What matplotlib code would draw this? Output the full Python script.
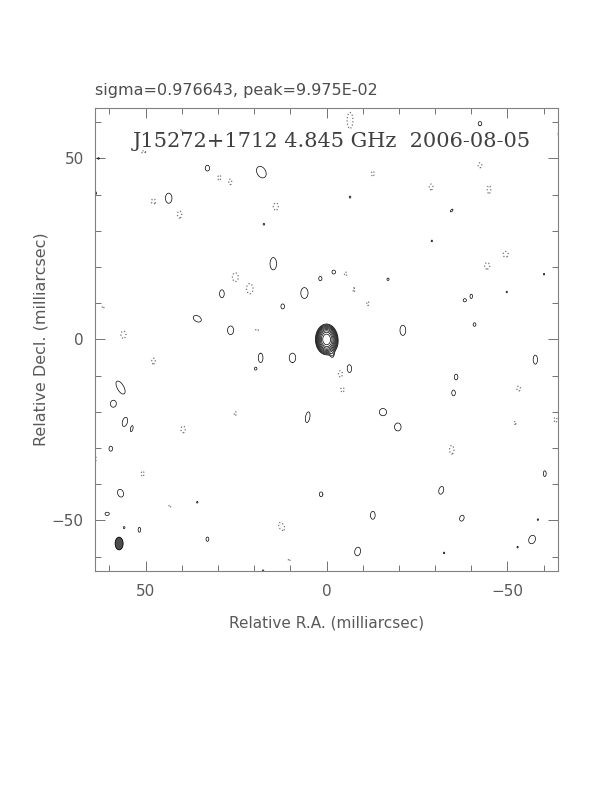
import numpy as np
import matplotlib
matplotlib.use("Agg")
from matplotlib import pyplot as plt
from matplotlib.patches import Ellipse
from matplotlib.ticker import MultipleLocator

# map info
source_name = "J15272+1712"
freq_label = "4.845 GHz"
obs_date = "2006-08-05"
sigma = 0.976643      # mJy/beam
peak = 9.975e-02      # Jy/beam

# contour levels in mJy/beam (3 sigma, steps of sqrt 2)
lowest = 3 * sigma
pos_levels = lowest * 2 ** (np.arange(0, 10) / 2.0)
neg_levels = [-lowest]

# core components: x, y (mas), flux (mJy), sigma_x, sigma_y (mas)
core_x = [0.0, -1.5, -1.6]
core_y = [0.0, -1.0, -4.3]
core_flux = [peak * 1000, 5.0, 3.5]
core_sx = [1.15, 1.0, 0.5]
core_sy = [1.6, 1.5, 0.8]

# positive noise islands: x, y, width, height (mas, lowest contour), pa (deg)
pos_x = [32.9, 18.0, 43.6, -42.4, 14.7, 28.9, 6.1, 1.7, -2.0, 12.1, 35.7, 26.5,
         -21.1, -40.9, -38.2, -40.0, 18.2, 9.4, -6.3, 19.6, -57.7, -35.8, -35.1,
         56.9, 58.9, 55.7, 53.8, 5.2, -15.6, -19.7, 59.6, -60.3, 56.9, 1.5, -31.7,
         60.6, 51.7, -12.8, -37.4, 32.9, -56.8, -8.6, -64.5, 64.0, -34.6, -17.0,
         -6.5, 17.3, 55.9, 63.0, -52.8, -32.5, 35.7, 17.5, -58.4, -60.1, -29.1,
         -49.8]
pos_y = [47.3, 46.2, 39.0, 59.6, 20.9, 12.6, 12.8, 16.8, 18.6, 9.1, 5.7, 2.5,
         2.5, 4.1, 10.8, 11.9, -5.1, -5.1, -8.1, -8.1, -5.6, -10.4, -14.8,
         -13.3, -17.8, -22.8, -24.7, -21.5, -20.1, -24.2, -30.2, -37.1, -42.5,
         -42.8, -41.7, -48.2, -52.6, -48.6, -49.4, -55.2, -55.3, -58.6, 56.8,
         40.4, 35.6, 16.6, 39.3, 31.8, -52.0, 50.0, -57.4, -59.0, -45.0, -63.9,
         -49.8, 18.0, 27.2, 13.1]
pos_w = [1.2, 2.4, 1.8, 1.0, 1.8, 1.3, 2.0, 0.9, 1.0, 1.0, 2.4, 1.7,
         1.6, 0.8, 0.9, 0.7, 1.3, 1.8, 1.3, 0.6, 1.2, 1.0, 1.0,
         1.8, 1.6, 1.4, 0.6, 1.2, 2.0, 1.8, 1.0, 0.8, 1.6, 1.0, 1.3,
         1.2, 0.7, 1.3, 1.2, 0.8, 1.8, 1.6, 1.0, 0.8, 0.5, 0.6,
         0.5, 0.5, 0.5, 0.6, 0.4, 0.4, 0.4, 0.4, 0.4, 0.4, 0.4, 0.4]
pos_h = [1.6, 3.4, 2.8, 1.2, 3.4, 2.2, 3.0, 1.2, 1.1, 1.4, 1.6, 2.4,
         2.8, 1.0, 0.9, 1.2, 2.6, 2.6, 2.2, 0.7, 2.5, 1.6, 1.6,
         4.0, 1.9, 2.6, 1.6, 3.0, 2.0, 2.2, 1.4, 1.6, 2.2, 1.3, 2.2,
         0.9, 1.4, 2.2, 1.7, 1.2, 2.4, 2.4, 1.6, 1.2, 1.0, 0.7,
         0.6, 0.5, 0.6, 0.4, 0.5, 0.5, 0.5, 0.5, 0.5, 0.5, 0.5, 0.5]
pos_pa = [0, 30, 0, 0, 0, 0, 0, 0, 0, 0, -30, 0,
          0, 0, 0, 0, 0, 0, 0, 0, 0, 0, 0,
          30, 0, -15, -15, -10, 0, 0, 0, 0, 20, 0, -15,
          0, 0, 0, -20, 0, -20, -10, 0, 0, -40, 0,
          0, 0, 0, 0, 0, 0, 0, 0, 0, 0, 0, 0]

# negative noise islands
neg_x = [-6.5, 50.6, 29.6, 26.6, -12.8, -42.4, -44.9, -28.9, 47.8, 40.6, 14.0,
         -49.5, -44.4, 25.2, 21.2, 56.1, 47.8, -3.9, -4.4, -53.1, 39.6, 25.2,
         -34.6, 50.8, 12.4, -52.1, -63.3, 64.0, -5.3, -7.6, -11.4, 19.2, 43.3,
         61.7, 40.0, 10.3]
neg_y = [60.5, 51.8, 44.7, 43.5, 45.8, 48.1, 41.4, 42.1, 38.1, 34.5, 36.7,
         23.5, 20.3, 17.2, 14.0, 1.3, -6.0, -9.5, -13.9, -13.6, -24.9, -20.5,
         -30.5, -37.1, -51.7, -23.1, -22.2, -33.0, 18.1, 13.7, 9.9, 2.6, -46.1,
         8.9, 57.7, -60.9]
neg_w = [1.6, 1.2, 0.8, 0.8, 0.8, 1.0, 1.0, 1.0, 1.2, 1.2, 1.4,
         1.4, 1.4, 1.6, 1.8, 1.4, 1.0, 1.2, 1.0, 1.0, 1.2, 0.6,
         1.2, 0.8, 1.4, 0.6, 0.8, 0.8, 0.7, 0.5, 0.6, 0.8, 0.6,
         0.5, 0.5, 0.5]
neg_h = [4.4, 0.6, 1.4, 1.6, 1.4, 1.4, 2.2, 1.6, 1.4, 2.0, 2.0,
         1.6, 1.8, 2.4, 2.8, 2.0, 1.6, 1.8, 1.2, 1.4, 1.8, 1.0,
         2.4, 1.4, 2.4, 0.8, 1.4, 1.4, 1.0, 1.0, 1.2, 0.4, 0.6,
         0.6, 0.6, 0.6]
neg_pa = [0, 0, 0, 0, 0, 0, 0, 0, 0, 0, 0,
          0, 0, 0, 0, 0, 0, 0, 0, 0, 0, 0,
          0, 0, 30, 0, 0, 0, 0, 0, 0, 0, 0,
          0, 0, 0]

# restoring beam (FWHM, mas) and where it is drawn
beam_x, beam_y = 57.3, -56.4
beam_w, beam_h, beam_pa = 2.2, 3.5, 0


def gauss2d(X, Y, x0, y0, amp, sx, sy, pa=0.0):
    t = np.radians(pa)
    dx = X - x0
    dy = Y - y0
    u = dx * np.cos(t) - dy * np.sin(t)
    v = dx * np.sin(t) + dy * np.cos(t)
    return amp * np.exp(-0.5 * ((u / sx) ** 2 + (v / sy) ** 2))


grid = np.arange(-66, 66.01, 0.2)
X, Y = np.meshgrid(grid, grid)
img = np.zeros_like(X)

for x0, y0, f, sx, sy in zip(core_x, core_y, core_flux, core_sx, core_sy):
    img += gauss2d(X, Y, x0, y0, f, sx, sy)

# islands peak at 1.3x the lowest level -> contour at 0.724 sigma
isl_amp = 1.3
k = np.sqrt(2 * np.log(isl_amp))
for x0, y0, w, h, pa in zip(pos_x, pos_y, pos_w, pos_h, pos_pa):
    img += gauss2d(X, Y, x0, y0, isl_amp * lowest, w / 2 / k, h / 2 / k, pa)
for x0, y0, w, h, pa in zip(neg_x, neg_y, neg_w, neg_h, neg_pa):
    img -= gauss2d(X, Y, x0, y0, isl_amp * lowest, w / 2 / k, h / 2 / k, pa)

fig = plt.figure(figsize=(6.12, 7.92), dpi=100)
ax = fig.add_axes([0.155, 0.279, 0.757, 0.585])

ax.contour(X, Y, img, levels=pos_levels, colors='k', linewidths=0.5)
ax.contour(X, Y, img, levels=neg_levels, colors='0.45', linewidths=0.9,
           linestyles=':')

beam = Ellipse((beam_x, beam_y), beam_w, beam_h, angle=beam_pa,
               facecolor='0.3', edgecolor='k', linewidth=0.6)
ax.add_patch(beam)

ax.set_xlim(64, -64)
ax.set_ylim(-64, 64)
ax.set_xticks([50, 0, -50])
ax.set_yticks([-50, 0, 50])
ax.xaxis.set_minor_locator(MultipleLocator(10))
ax.yaxis.set_minor_locator(MultipleLocator(10))
ax.tick_params(which='both', direction='in', top=True, right=True,
               color='0.45', labelcolor='0.35', labelsize=11)
ax.tick_params(which='major', length=7, width=0.7)
ax.tick_params(which='minor', length=4, width=0.7)
ax.tick_params(axis='x', pad=9)
ax.tick_params(axis='y', pad=8)
for sp in ax.spines.values():
    sp.set_color('0.5')
    sp.set_linewidth(0.8)

ax.set_xlabel('Relative R.A. (milliarcsec)', fontsize=11, color='0.35',
              labelpad=12)
ax.set_ylabel('Relative Decl. (milliarcsec)', fontsize=11.5, color='0.35',
              labelpad=2)

ax.text(0.511, 0.927, f"{source_name} {freq_label}  {obs_date}",
        transform=ax.transAxes, ha='center', va='center',
        family='DejaVu Serif', fontsize=15, color='0.25')
fig.text(95 / 612, 1 - 91 / 792, f"sigma={sigma}, peak={peak:.3E}",
         ha='left', va='center', fontsize=11.5, color='0.3')

fig.savefig('out.png', dpi=100)
